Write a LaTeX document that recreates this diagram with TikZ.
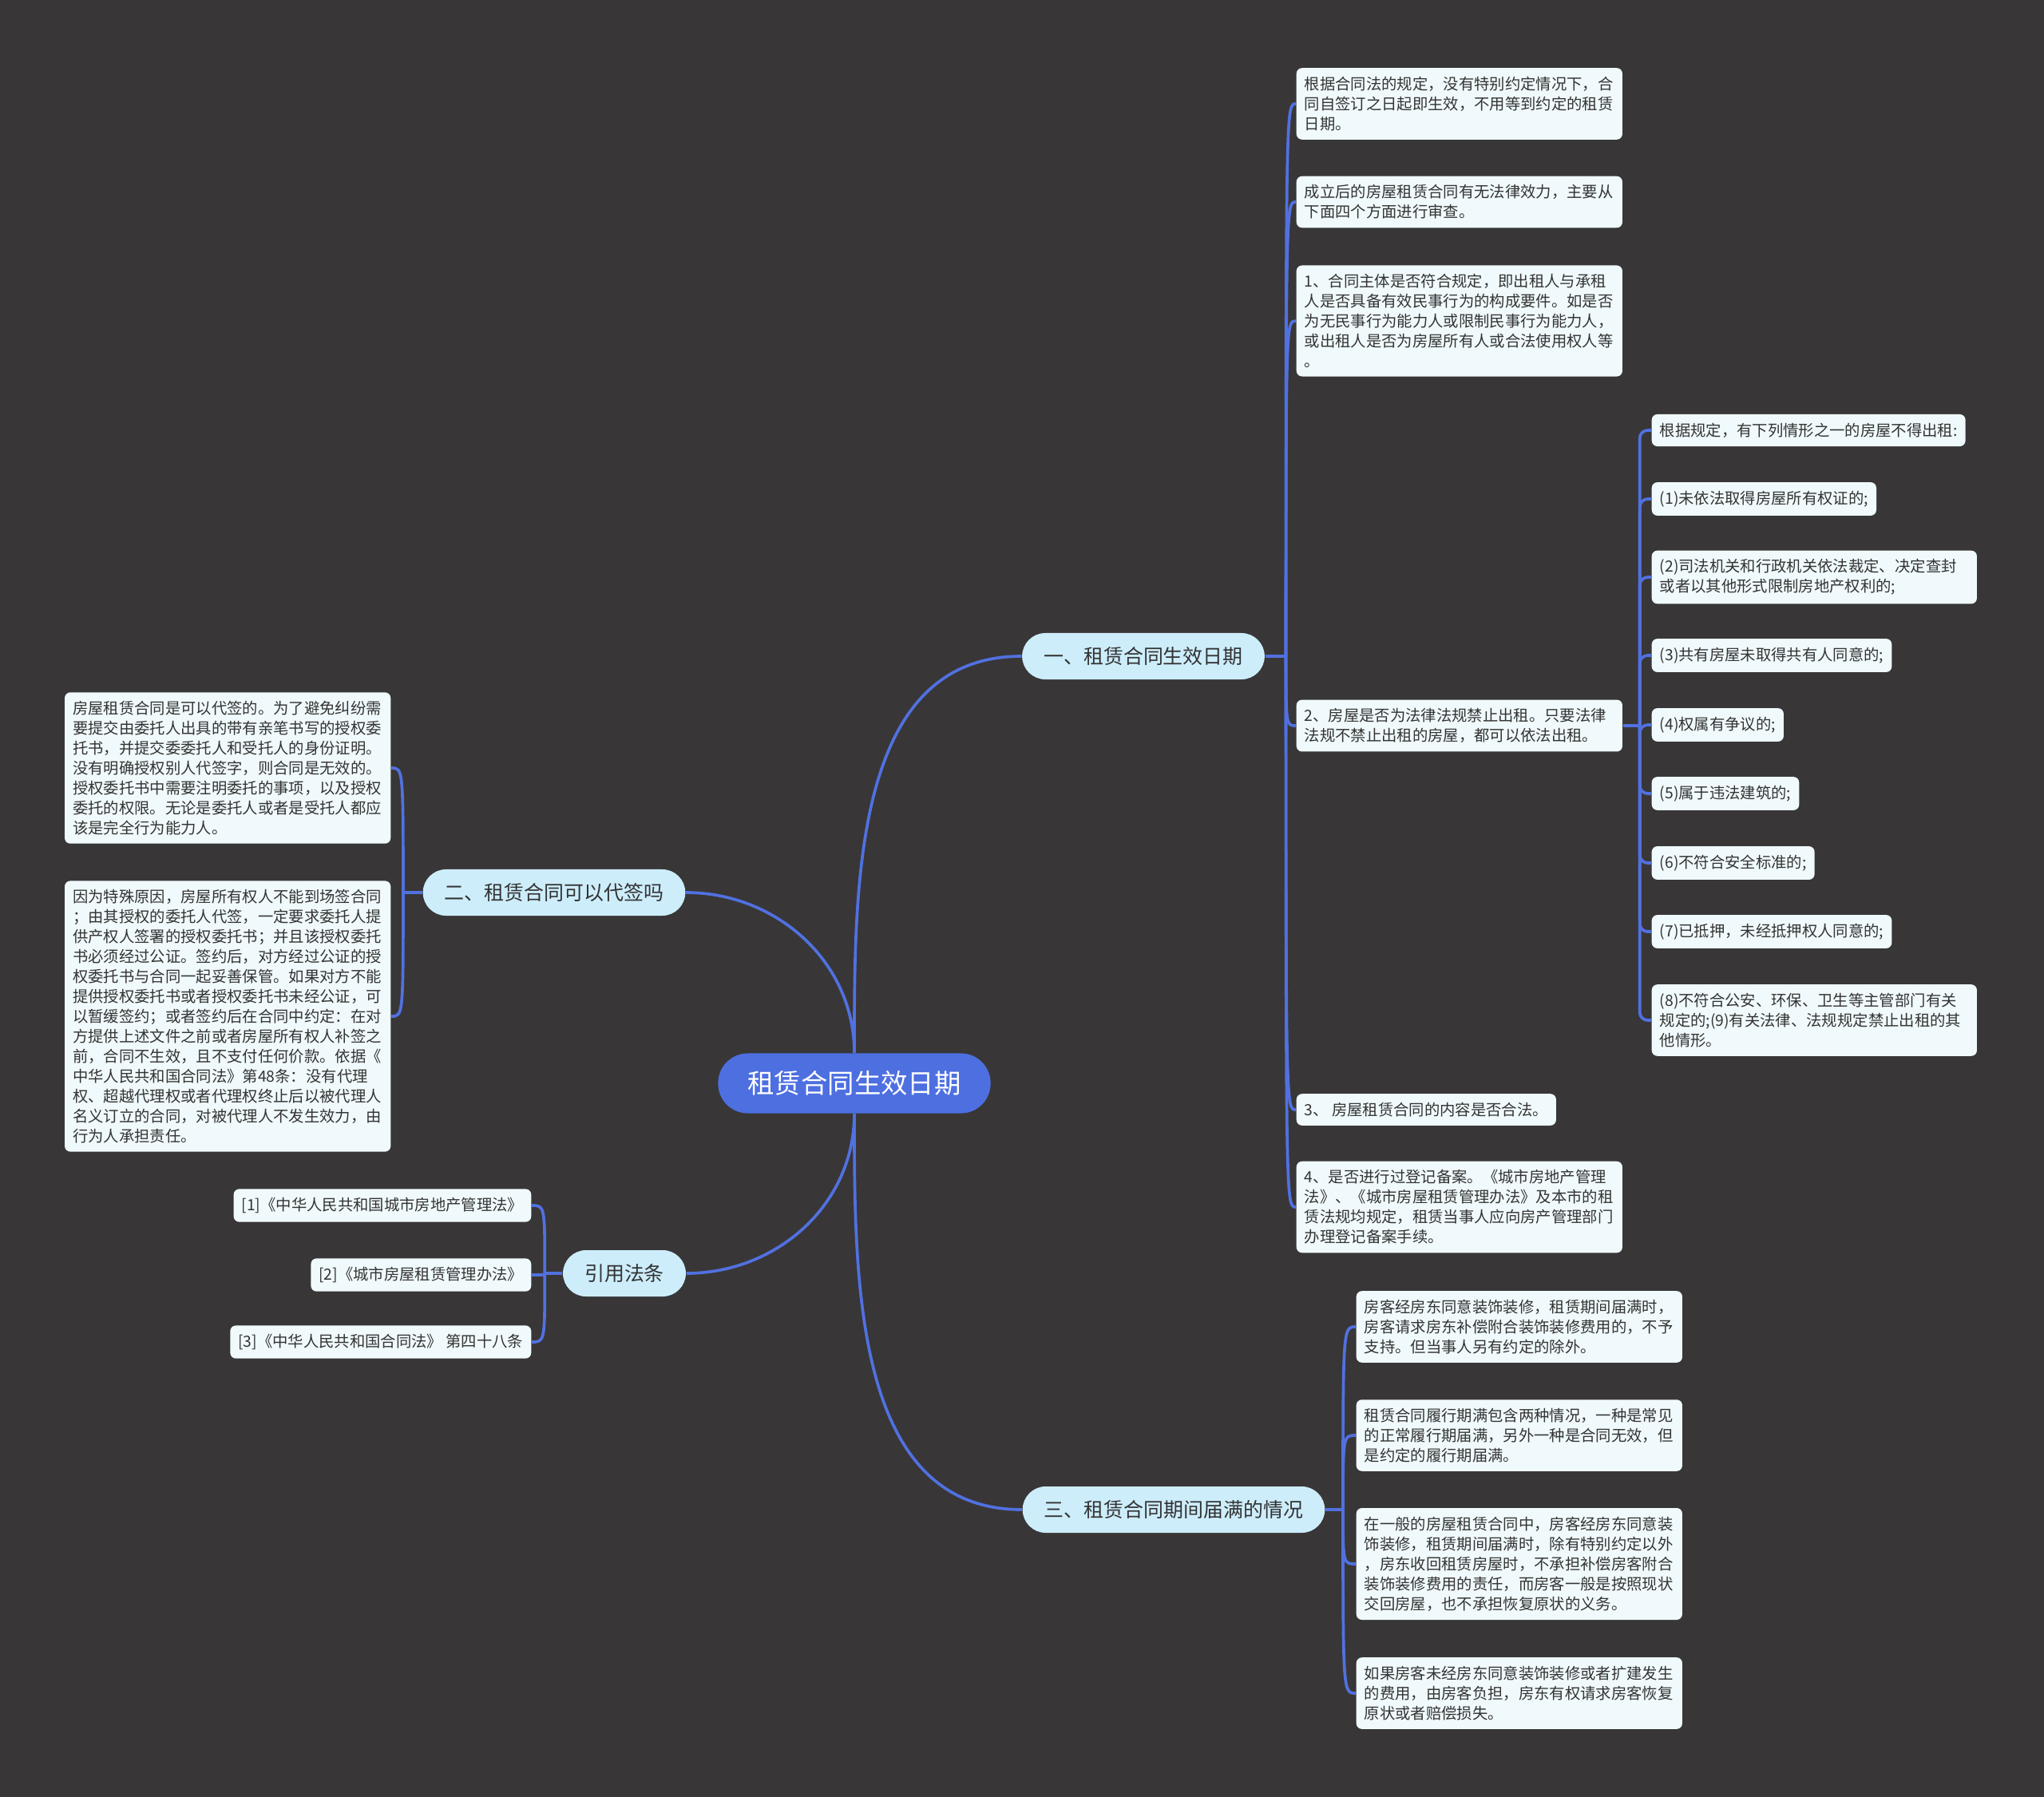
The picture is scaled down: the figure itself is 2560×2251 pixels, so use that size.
\documentclass[tikz,border=0pt]{standalone}
\usepackage{fontspec}
\setmainfont{Noto Sans CJK SC}
\usepackage{xcolor}
\definecolor{bgdark}{HTML}{383637}
\definecolor{linkblue}{HTML}{5171E0}
\definecolor{hubblue}{HTML}{4D6FE0}
\definecolor{topicfill}{HTML}{CDEDFB}
\definecolor{leaffill}{HTML}{F0FAFC}
\definecolor{inkdark}{HTML}{333333}

\begin{document}
\begin{tikzpicture}[x=0.01cm, y=-0.01cm,
  leaf/.style={fill=leaffill, text=inkdark, rounded corners=0.07cm, align=left, inner xsep=0.1cm, inner ysep=0.108cm, font=\fontsize{5.5pt}{7.1pt}\selectfont},
  wide/.style={leaf, text width=3.88cm},
  topic/.style={fill=topicfill, text=inkdark, rounded corners=0.29cm, minimum height=0.58cm, inner xsep=0.27cm, font=\fontsize{7.1pt}{8.5pt}\selectfont},
  hub/.style={fill=hubblue, text=white, rounded corners=0.37cm, minimum height=0.75cm, inner xsep=0.37cm, font=\fontsize{9.5pt}{11pt}\selectfont},
  link/.style={draw=linkblue, line width=1.05pt}]
\fill[bgdark] (0,0) rectangle (2560,2251);

% centre and main topics
\node[hub] (hub) at (1070,1357) {租赁合同生效日期};
\node[topic] (eff) at (1432,822) {一、租赁合同生效日期};
\node[topic] (sign) at (694,1118) {二、租赁合同可以代签吗};
\node[topic] (law) at (782,1595) {引用法条};
\node[topic] (exp) at (1470,1891) {三、租赁合同期间届满的情况};

\draw[link] (hub.north) to[out=90,in=180] (eff.west);
\draw[link] (hub.north) to[out=90,in=0] (sign.east);
\draw[link] (hub.south) to[out=-90,in=0] (law.east);
\draw[link] (hub.south) to[out=-90,in=180] (exp.west);

% 一
\node[wide, anchor=west] (a1) at (1623,130) {根据合同法的规定，没有特别约定情况下，合\\同自签订之日起即生效，不用等到约定的租赁\\日期。};
\node[wide, anchor=west] (a2) at (1623,253) {成立后的房屋租赁合同有无法律效力，主要从\\下面四个方面进行审查。};
\node[wide, anchor=west] (a3) at (1623,402) {1、合同主体是否符合规定，即出租人与承租\\人是否具备有效民事行为的构成要件。如是否\\为无民事行为能力人或限制民事行为能力人，\\或出租人是否为房屋所有人或合法使用权人等\\。};
\node[wide, anchor=west] (a4) at (1623,909) {2、房屋是否为法律法规禁止出租。只要法律\\法规不禁止出租的房屋，都可以依法出租。};
\node[leaf, anchor=west] (a5) at (1623,1390) {3、 房屋租赁合同的内容是否合法。};
\node[wide, anchor=west] (a6) at (1623,1512) {4、是否进行过登记备案。《城市房地产管理\\法》、《城市房屋租赁管理办法》及本市的租\\赁法规均规定，租赁当事人应向房产管理部门\\办理登记备案手续。};

\coordinate (effsp) at ([xshift=0.26cm]eff.east);
\draw[link] (eff.east) -- (effsp);
\foreach \c in {a1,a2,a3,a4,a5,a6}
  \draw[link] (effsp) .. controls (effsp |- \c.west) .. (\c.west);

% 2、 sub list
\node[leaf, anchor=west] (b0) at (2068,539) {根据规定，有下列情形之一的房屋不得出租:};
\node[leaf, anchor=west] (b1) at (2068,625) {(1)未依法取得房屋所有权证的;};
\node[leaf, anchor=west, text width=3.87cm] (b2) at (2068,723) {(2)司法机关和行政机关依法裁定、决定查封\\或者以其他形式限制房地产权利的;};
\node[leaf, anchor=west] (b3) at (2068,821) {(3)共有房屋未取得共有人同意的;};
\node[leaf, anchor=west] (b4) at (2068,908) {(4)权属有争议的;};
\node[leaf, anchor=west] (b5) at (2068,994) {(5)属于违法建筑的;};
\node[leaf, anchor=west] (b6) at (2068,1081) {(6)不符合安全标准的;};
\node[leaf, anchor=west] (b7) at (2068,1167) {(7)已抵押，未经抵押权人同意的;};
\node[leaf, anchor=west, text width=3.87cm] (b8) at (2068,1278) {(8)不符合公安、环保、卫生等主管部门有关\\规定的;(9)有关法律、法规规定禁止出租的其\\他情形。};

\coordinate (rentsp) at ([xshift=0.21cm]a4.east);
\draw[link] (a4.east) -- (rentsp);
\foreach \c in {b0,b1,b2,b3,b4,b5,b6,b7,b8}
  \draw[link, rounded corners=0.1cm] (rentsp) |- (\c.west);

% 二
\node[wide, anchor=east] (c1) at (490,962) {房屋租赁合同是可以代签的。为了避免纠纷需\\要提交由委托人出具的带有亲笔书写的授权委\\托书，并提交委委托人和受托人的身份证明。\\没有明确授权别人代签字，则合同是无效的。\\授权委托书中需要注明委托的事项，以及授权\\委托的权限。无论是委托人或者是受托人都应\\该是完全行为能力人。};
\node[wide, anchor=east] (c2) at (490,1273) {因为特殊原因，房屋所有权人不能到场签合同\\；由其授权的委托人代签，一定要求委托人提\\供产权人签署的授权委托书；并且该授权委托\\书必须经过公证。签约后，对方经过公证的授\\权委托书与合同一起妥善保管。如果对方不能\\提供授权委托书或者授权委托书未经公证，可\\以暂缓签约；或者签约后在合同中约定：在对\\方提供上述文件之前或者房屋所有权人补签之\\前，合同不生效，且不支付任何价款。依据《\\中华人民共和国合同法》第48条：没有代理\\权、超越代理权或者代理权终止后以被代理人\\名义订立的合同，对被代理人不发生效力，由\\行为人承担责任。};

\coordinate (signsp) at ([xshift=-0.24cm]sign.west);
\draw[link] (sign.west) -- (signsp);
\foreach \c in {c1,c2}
  \draw[link] (signsp) .. controls (signsp |- \c.east) .. (\c.east);

% 引用法条
\node[leaf, anchor=east] (r1) at (666,1510) {[1]《中华人民共和国城市房地产管理法》};
\node[leaf, anchor=east] (r2) at (666,1597) {[2]《城市房屋租赁管理办法》};
\node[leaf, anchor=east] (r3) at (666,1681) {[3]《中华人民共和国合同法》 第四十八条};

\coordinate (lawsp) at ([xshift=-0.22cm]law.west);
\draw[link] (law.west) -- (lawsp);
\foreach \c in {r1,r2,r3}
  \draw[link] (lawsp) .. controls (lawsp |- \c.east) .. (\c.east);

% 三
\node[wide, anchor=west] (d1) at (1698,1662) {房客经房东同意装饰装修，租赁期间届满时，\\房客请求房东补偿附合装饰装修费用的，不予\\支持。但当事人另有约定的除外。};
\node[wide, anchor=west] (d2) at (1698,1798) {租赁合同履行期满包含两种情况，一种是常见\\的正常履行期届满，另外一种是合同无效，但\\是约定的履行期届满。};
\node[wide, anchor=west] (d3) at (1698,1959) {在一般的房屋租赁合同中，房客经房东同意装\\饰装修，租赁期间届满时，除有特别约定以外\\，房东收回租赁房屋时，不承担补偿房客附合\\装饰装修费用的责任，而房客一般是按照现状\\交回房屋，也不承担恢复原状的义务。};
\node[wide, anchor=west] (d4) at (1698,2121) {如果房客未经房东同意装饰装修或者扩建发生\\的费用，由房客负担，房东有权请求房客恢复\\原状或者赔偿损失。};

\coordinate (expsp) at ([xshift=0.22cm]exp.east);
\draw[link] (exp.east) -- (expsp);
\foreach \c in {d1,d2,d3,d4}
  \draw[link] (expsp) .. controls (expsp |- \c.west) .. (\c.west);
\end{tikzpicture}
\end{document}
